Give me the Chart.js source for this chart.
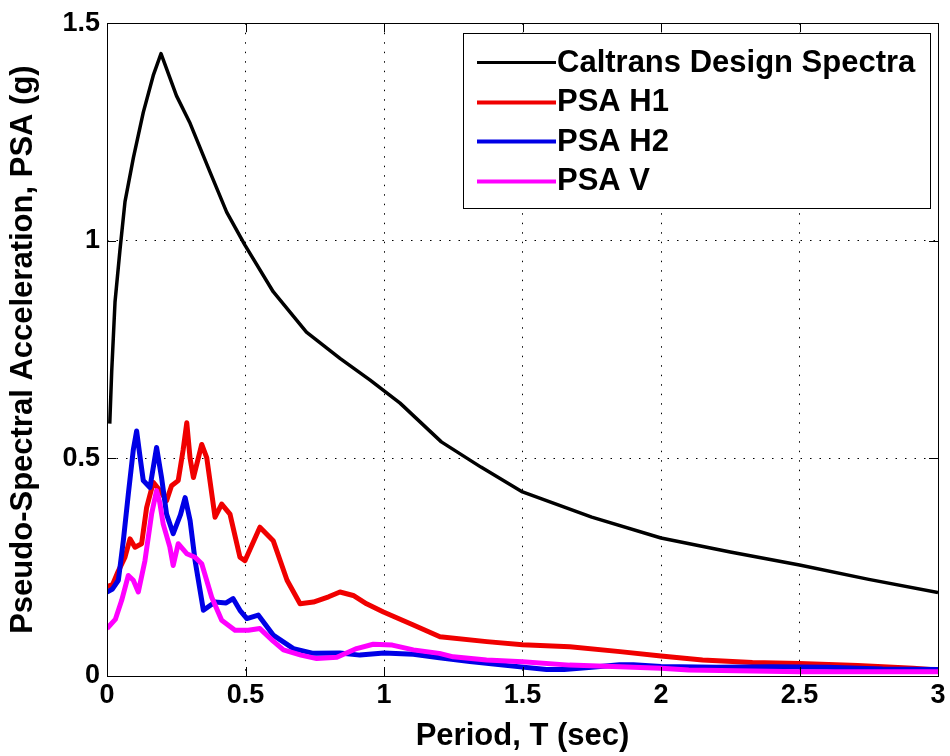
<!DOCTYPE html>
<html>
<head>
<meta charset="utf-8">
<script src="https://cdn.jsdelivr.net/npm/chart.js@4/dist/chart.umd.min.js"></script>
<style>
  html, body { margin: 0; padding: 0; background: #fff; }
  canvas { display: block; }
</style>
</head>
<body>
<canvas id="c" width="950" height="756"></canvas>
<script>
// ---- Data ----
const seriesLabels = ["Caltrans Design Spectra", "PSA H1", "PSA H2", "PSA V"];

const caltransT   = [0.01, 0.017, 0.029, 0.047, 0.065, 0.095, 0.131, 0.167, 0.195, 0.251, 0.30, 0.372, 0.432, 0.498, 0.60, 0.72, 0.841, 0.95, 1.058, 1.207, 1.35, 1.5, 1.75, 2.0, 2.25, 2.5, 2.75, 3.0];
const caltransPSA = [0.58, 0.70, 0.86, 0.98, 1.09, 1.19, 1.295, 1.38, 1.43, 1.333, 1.27, 1.158, 1.066, 0.99, 0.883, 0.79, 0.73, 0.68, 0.627, 0.538, 0.48, 0.423, 0.365, 0.317, 0.285, 0.255, 0.222, 0.192];

const h1T   = [0, 0.02, 0.04, 0.065, 0.083, 0.101, 0.125, 0.143, 0.167, 0.191, 0.215, 0.233, 0.257, 0.275, 0.288, 0.30, 0.312, 0.342, 0.36, 0.39, 0.414, 0.444, 0.48, 0.498, 0.552, 0.60, 0.65, 0.697, 0.745, 0.80, 0.841, 0.889, 0.937, 0.998, 1.106, 1.202, 1.371, 1.5, 1.671, 1.852, 2.0, 2.15, 2.33, 2.5, 2.71, 2.91, 3.0];
const h1PSA = [0.205, 0.21, 0.24, 0.273, 0.315, 0.296, 0.304, 0.387, 0.445, 0.426, 0.403, 0.437, 0.449, 0.52, 0.582, 0.50, 0.456, 0.532, 0.502, 0.365, 0.395, 0.372, 0.273, 0.265, 0.342, 0.311, 0.22, 0.166, 0.17, 0.182, 0.193, 0.185, 0.166, 0.147, 0.117, 0.09, 0.079, 0.072, 0.067, 0.056, 0.046, 0.037, 0.031, 0.029, 0.024, 0.018, 0.014];

const h2T   = [0, 0.02, 0.041, 0.059, 0.077, 0.095, 0.107, 0.12, 0.131, 0.155, 0.179, 0.197, 0.215, 0.239, 0.265, 0.282, 0.30, 0.318, 0.348, 0.39, 0.43, 0.455, 0.48, 0.505, 0.546, 0.60, 0.673, 0.745, 0.841, 0.913, 1.0, 1.106, 1.2, 1.31, 1.43, 1.587, 1.65, 1.75, 1.85, 1.9, 2.0, 2.2, 2.4, 2.6, 2.8, 3.0];
const h2PSA = [0.193, 0.2, 0.22, 0.311, 0.418, 0.52, 0.563, 0.5, 0.449, 0.433, 0.525, 0.456, 0.372, 0.327, 0.37, 0.41, 0.357, 0.265, 0.151, 0.17, 0.168, 0.178, 0.151, 0.132, 0.14, 0.094, 0.063, 0.052, 0.053, 0.048, 0.053, 0.05, 0.042, 0.033, 0.025, 0.015, 0.015, 0.02, 0.026, 0.026, 0.022, 0.02, 0.021, 0.02, 0.016, 0.015];

const vT   = [0, 0.03, 0.053, 0.077, 0.095, 0.113, 0.137, 0.161, 0.179, 0.19, 0.203, 0.227, 0.239, 0.257, 0.288, 0.318, 0.342, 0.378, 0.414, 0.462, 0.51, 0.552, 0.60, 0.637, 0.70, 0.757, 0.83, 0.901, 0.961, 1.03, 1.106, 1.2, 1.25, 1.37, 1.5, 1.67, 1.85, 2.0, 2.1, 2.5, 3.0];
const vPSA = [0.109, 0.13, 0.174, 0.231, 0.22, 0.193, 0.265, 0.372, 0.426, 0.40, 0.349, 0.296, 0.254, 0.304, 0.281, 0.273, 0.258, 0.181, 0.128, 0.105, 0.105, 0.109, 0.08, 0.06, 0.048, 0.04, 0.043, 0.063, 0.073, 0.071, 0.06, 0.052, 0.044, 0.037, 0.033, 0.025, 0.021, 0.018, 0.014, 0.01, 0.01];

const xTicks = [0, 0.5, 1, 1.5, 2, 2.5, 3];
const yTicks = [0, 0.5, 1, 1.5];
const xTickLabels = ["0", "0.5", "1", "1.5", "2", "2.5", "3"];
const yTickLabels = ["0", "0.5", "1", "1.5"];

// ---- helpers ----
function pts(xs, ys) { return xs.map((x, i) => ({ x: x, y: ys[i] })); }

const FONT = "'Liberation Sans', Arial, Helvetica, sans-serif";

const boxPlugin = {
  id: 'boxPlugin',
  afterDatasetsDraw(chart) {
    const ctx = chart.ctx, a = chart.chartArea;
    const xs = chart.scales.x, ys = chart.scales.y;
    ctx.save();
    ctx.strokeStyle = '#000';
    ctx.lineWidth = 1;
    ctx.setLineDash([]);
    ctx.strokeRect(Math.round(a.left) + 0.5, Math.round(a.top) + 0.5, Math.round(a.right - a.left), Math.round(a.bottom - a.top));
    const tl = 9;
    ctx.beginPath();
    xTicks.forEach(v => {
      const px = Math.round(xs.getPixelForValue(v)) + 0.5;
      ctx.moveTo(px, a.bottom); ctx.lineTo(px, a.bottom - tl);
      ctx.moveTo(px, a.top); ctx.lineTo(px, a.top + tl);
    });
    yTicks.forEach(v => {
      const py = Math.round(ys.getPixelForValue(v)) + 0.5;
      ctx.moveTo(a.left, py); ctx.lineTo(a.left + tl, py);
      ctx.moveTo(a.right, py); ctx.lineTo(a.right - tl, py);
    });
    ctx.stroke();

    // legend box inside the axes (top-right)
    const lx = 463, ly = 33, lw = 467, lh = 175;
    ctx.fillStyle = '#fff';
    ctx.fillRect(lx, ly, lw, lh);
    ctx.strokeRect(lx + 0.5, ly + 0.5, lw, lh);
    ctx.font = "bold 31px " + FONT;
    ctx.textBaseline = 'middle';
    ctx.textAlign = 'left';
    chart.data.datasets.forEach((ds, i) => {
      const y = 62 + i * 39.5;
      ctx.strokeStyle = ds.borderColor;
      ctx.lineWidth = i === 0 ? 3 : 4;
      ctx.beginPath();
      ctx.moveTo(477, Math.round(y) + 0.5);
      ctx.lineTo(556, Math.round(y) + 0.5);
      ctx.stroke();
      ctx.fillStyle = '#000';
      ctx.fillText(ds.label, 557, y + 1);
    });
    ctx.restore();
  }
};

new Chart(document.getElementById('c'), {
  type: 'line',
  data: {
    datasets: [
      { label: seriesLabels[0], data: pts(caltransT, caltransPSA), borderColor: '#000000', borderWidth: 3.5, order: 4 },
      { label: seriesLabels[1], data: pts(h1T, h1PSA), borderColor: '#f00000', borderWidth: 5, order: 3 },
      { label: seriesLabels[2], data: pts(h2T, h2PSA), borderColor: '#0000e6', borderWidth: 5, order: 2 },
      { label: seriesLabels[3], data: pts(vT, vPSA), borderColor: '#ff00ff', borderWidth: 5, order: 1 }
    ]
  },
  options: {
    responsive: false,
    animation: false,
    devicePixelRatio: 1,
    layout: { padding: { top: 20, right: 12, left: 0, bottom: 0 } },
    elements: { point: { radius: 0 }, line: { tension: 0, borderJoinStyle: 'round', borderCapStyle: 'butt' } },
    plugins: { legend: { display: false }, tooltip: { enabled: false }, title: { display: false } },
    scales: {
      x: {
        type: 'linear', min: 0, max: 3,
        afterBuildTicks: s => { s.ticks = xTicks.map(v => ({ value: v })); },
        afterFit: s => { s.height = 80; },
        ticks: {
          color: '#000', padding: 3, maxRotation: 0, autoSkip: false,
          font: { family: FONT, size: 27, weight: 'bold' },
          callback: (v) => xTickLabels[xTicks.indexOf(v)]
        },
        grid: { color: '#000', lineWidth: 1, drawTicks: false },
        border: { display: false, dash: [1.5, 8] },
        title: { display: true, text: 'Period, T (sec)', color: '#000', padding: { top: 0, bottom: 1 },
          font: { family: FONT, size: 31, weight: 'bold' } }
      },
      y: {
        type: 'linear', min: 0, max: 1.5,
        afterBuildTicks: s => { s.ticks = yTicks.map(v => ({ value: v })); },
        afterFit: s => { s.width = 107; },
        ticks: {
          color: '#000', padding: 7, autoSkip: false,
          font: { family: FONT, size: 27, weight: 'bold' },
          callback: (v) => yTickLabels[yTicks.indexOf(v)]
        },
        grid: { color: '#000', lineWidth: 1, drawTicks: false },
        border: { display: false, dash: [1.5, 8] },
        title: { display: true, text: 'Pseudo-Spectral Acceleration, PSA (g)', color: '#000', padding: { top: 5, bottom: 0 },
          font: { family: FONT, size: 31, weight: 'bold' } }
      }
    }
  },
  plugins: [boxPlugin]
});
</script>
</body>
</html>
